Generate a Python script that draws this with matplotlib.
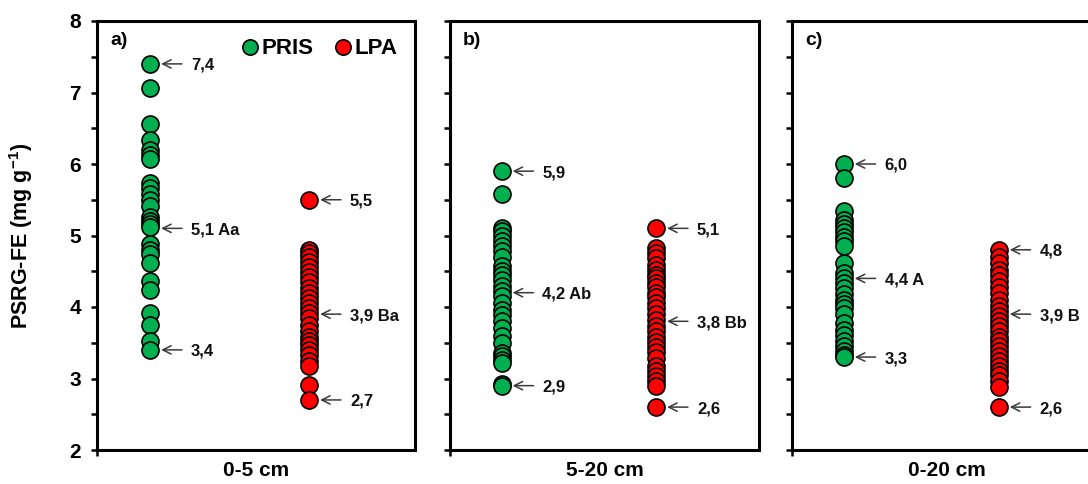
import matplotlib
matplotlib.use("Agg")
import matplotlib.pyplot as plt
from matplotlib.lines import Line2D
from matplotlib.ticker import MultipleLocator

plt.rcParams["font.family"] = ["Liberation Sans", "DejaVu Sans"]
plt.rcParams["font.weight"] = "bold"
plt.rcParams["mathtext.fontset"] = "custom"
plt.rcParams["mathtext.rm"] = "Liberation Sans:bold"
plt.rcParams["mathtext.bf"] = "Liberation Sans:bold"
plt.rcParams["mathtext.default"] = "bf"

# ---- data (mg g-1) ----
depths = ["0-5 cm", "5-20 cm", "0-20 cm"]
panel_tags = ["a)", "b)", "c)"]
groups = ["PRIS", "LPA"]

pris_05 = [7.4, 7.06, 6.56, 6.34, 6.19, 6.13, 6.07, 5.73, 5.66, 5.58, 5.50, 5.41,
           5.26, 5.20, 5.16, 5.12, 4.88, 4.80, 4.74, 4.62, 4.36, 4.24, 3.92, 3.75,
           3.52, 3.4]
lpa_05 = [5.5, 4.80, 4.75, 4.70, 4.63, 4.56, 4.49, 4.42, 4.35, 4.27, 4.19, 4.12,
          4.05, 3.98, 3.91, 3.84, 3.75, 3.67, 3.58, 3.52, 3.47, 3.40, 3.33, 3.25,
          3.17, 2.91, 2.7]
pris_520 = [5.9, 5.58, 5.10, 5.06, 5.00, 4.93, 4.85, 4.78, 4.70, 4.58, 4.50, 4.45,
            4.38, 4.30, 4.22, 4.15, 4.05, 3.96, 3.89, 3.80, 3.70, 3.60, 3.49, 3.36,
            3.31, 3.26, 3.22, 2.93, 2.9]
lpa_520 = [5.1, 4.83, 4.76, 4.68, 4.59, 4.52, 4.45, 4.40, 4.34, 4.28, 4.20, 4.14,
           4.06, 3.98, 3.90, 3.82, 3.74, 3.66, 3.58, 3.51, 3.44, 3.37, 3.28, 3.18,
           3.10, 3.03, 2.96, 2.89, 2.6]
pris_020 = [6.0, 5.81, 5.34, 5.22, 5.16, 5.10, 5.05, 4.98, 4.92, 4.85, 4.62, 4.48,
            4.40, 4.33, 4.26, 4.18, 4.10, 4.04, 3.98, 3.90, 3.77, 3.68, 3.61, 3.52,
            3.45, 3.38, 3.33, 3.3]
lpa_020 = [4.8, 4.70, 4.62, 4.52, 4.45, 4.37, 4.28, 4.19, 4.10, 4.02, 3.94, 3.88,
           3.80, 3.74, 3.66, 3.58, 3.52, 3.45, 3.38, 3.31, 3.24, 3.17, 3.10, 3.05,
           2.96, 2.88, 2.6]

pris_means = [5.1, 4.2, 4.4]
lpa_means = [3.9, 3.8, 3.9]
pris_letters = ["Aa", "Ab", "A"]
lpa_letters = ["Ba", "Bb", "B"]

pris_sets = [pris_05, pris_520, pris_020]
lpa_sets = [lpa_05, lpa_520, lpa_020]

y_ticks_major = [2, 3, 4, 5, 6, 7, 8]

# ---- style ----
GREEN = "#00B050"
RED = "#FF0000"
ARROW = "#3a3a3a"
X_POS = {"PRIS": 1, "LPA": 4}
MARKER_S = 150

W, H = 1088, 484
fig = plt.figure(figsize=(W / 100, H / 100), dpi=100)

# axes boxes in pixels: (left, width)
boxes = [(97, 318), (450, 309), (792, 310)]
top_px, bot_px = 21, 450


def fmt(v):
    return f"{v:.1f}".replace(".", ",")


def mark(ax, x, v, text):
    ax.annotate("", xy=(x, v), xytext=(23, 0), textcoords="offset points",
                arrowprops=dict(arrowstyle="->,head_length=0.5,head_width=0.25",
                                color=ARROW, lw=1.1, shrinkA=0, shrinkB=8,
                                mutation_scale=12),
                annotation_clip=False, zorder=4)
    ax.annotate(text, xy=(x, v), xytext=(29.5, 0), textcoords="offset points",
                ha="left", va="center_baseline", fontsize=12, fontweight="bold",
                color="#111111", annotation_clip=False)


for i, (left, width) in enumerate(boxes):
    ax = fig.add_axes([left / W, 1 - bot_px / H, width / W, (bot_px - top_px) / H])
    ax.set_xlim(0, 6)
    ax.set_ylim(2, 8)

    for grp, vals, col in (("PRIS", pris_sets[i], GREEN), ("LPA", lpa_sets[i], RED)):
        ax.scatter([X_POS[grp]] * len(vals), vals, s=MARKER_S, facecolor=col,
                   edgecolor="black", linewidth=1.2, zorder=3, clip_on=False)

    # max / mean / min call-outs
    pv, lv = pris_sets[i], lpa_sets[i]
    mark(ax, X_POS["PRIS"], max(pv), fmt(max(pv)))
    mark(ax, X_POS["PRIS"], pris_means[i], f"{fmt(pris_means[i])} {pris_letters[i]}")
    mark(ax, X_POS["PRIS"], min(pv), fmt(min(pv)))
    mark(ax, X_POS["LPA"], max(lv), fmt(max(lv)))
    mark(ax, X_POS["LPA"], lpa_means[i], f"{fmt(lpa_means[i])} {lpa_letters[i]}")
    mark(ax, X_POS["LPA"], min(lv), fmt(min(lv)))

    for sp in ax.spines.values():
        sp.set_linewidth(2.2)
        sp.set_color("black")

    ax.yaxis.set_major_locator(MultipleLocator(1))
    ax.yaxis.set_minor_locator(MultipleLocator(0.5))
    ax.tick_params(axis="y", which="both", direction="out", length=4.5, width=1.8,
                   labelsize=15, pad=7)
    if i == 0:
        ax.set_yticks(y_ticks_major)
        ax.set_yticklabels([str(t) for t in y_ticks_major], fontweight="bold")
    else:
        ax.tick_params(axis="y", which="both", labelleft=False)

    ax.set_xticks([0])
    ax.set_xticklabels([""])
    ax.tick_params(axis="x", direction="out", length=4.5, width=1.8)
    ax.set_xlabel(depths[i], fontsize=15, fontweight="bold", labelpad=0)

    ax.text(0.042, 0.975, panel_tags[i], transform=ax.transAxes, ha="left",
            va="top", fontsize=14, fontweight="bold")

    if i == 0:
        handles = [Line2D([], [], ls="", marker="o", markersize=11,
                          markerfacecolor=c, markeredgecolor="black",
                          markeredgewidth=1.2)
                   for c in (GREEN, RED)]
        ax.legend(handles, groups, loc="center right", ncol=2, frameon=False,
                  bbox_to_anchor=(0.945, 0.935), handlelength=0.7,
                  handletextpad=0.15, columnspacing=1.0, borderpad=0.0,
                  borderaxespad=0.0, prop=dict(size=16, weight="bold"))

fig.text(21 / W, 1 - (top_px + bot_px) / 2 / H, r"PSRG-FE (mg g$^{-1}$)",
         rotation=90, ha="center", va="center", fontsize=15.5, fontweight="bold")

fig.savefig("out.png", dpi=100)
